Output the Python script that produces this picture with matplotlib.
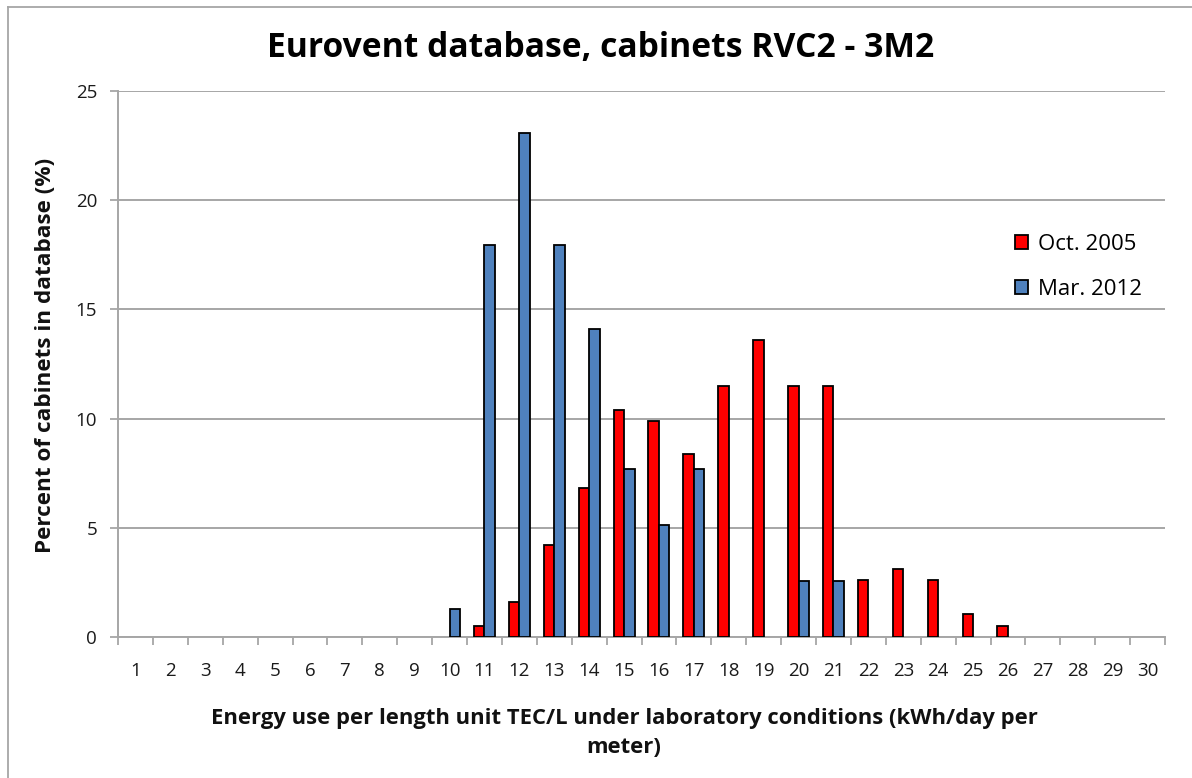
import matplotlib
matplotlib.use("Agg")
import matplotlib.pyplot as plt
import numpy as np
from matplotlib.lines import Line2D

# ---- data ----
categories = [str(i) for i in range(1, 31)]
oct_2005 = [0, 0, 0, 0, 0, 0, 0, 0, 0, 0,
            0.52, 1.6, 4.2, 6.8, 10.4, 9.9, 8.4, 11.5, 13.6, 11.5,
            11.5, 2.6, 3.1, 2.6, 1.04, 0.52, 0, 0, 0, 0]
mar_2012 = [0, 0, 0, 0, 0, 0, 0, 0, 0, 1.28,
            17.95, 23.08, 17.95, 14.10, 7.69, 5.13, 7.69, 0, 0, 2.56,
            2.56, 0, 0, 0, 0, 0, 0, 0, 0, 0]
series_labels = ["Oct. 2005", "Mar. 2012"]
yticks = [0, 5, 10, 15, 20, 25]
title = "Eurovent database, cabinets RVC2 - 3M2"
xlabel = "Energy use per length unit TEC/L under laboratory conditions (kWh/day per\nmeter)"
ylabel = "Percent of cabinets in database (%)"

FONT = "Open Sans"
W, H = 1192, 778
fig = plt.figure(figsize=(W / 100, H / 100), dpi=100)
ax = fig.add_axes([118 / W, 1 - 637 / H, (1165 - 118) / W, (637 - 91) / H])

x = np.arange(len(categories))
red = np.array(oct_2005, dtype=float)
blue = np.array(mar_2012, dtype=float)
bw = 0.3
m1 = red > 0
m2 = blue > 0
ax.bar(x[m1] - bw / 2, red[m1], width=bw, color="#FF0000", edgecolor="black",
       linewidth=1.3, label=series_labels[0], zorder=3)
ax.bar(x[m2] + bw / 2, blue[m2], width=bw, color="#4F81BD", edgecolor="black",
       linewidth=1.3, label=series_labels[1], zorder=3)

ax.set_xlim(-0.5, len(categories) - 0.5)
ax.set_ylim(0, 25)
ax.set_yticks(yticks)
ax.set_yticklabels([str(v) for v in yticks], fontsize=13.5, family=FONT, color="#1a1a1a")
ax.yaxis.grid(True, color="#A6A6A6", linewidth=1.4, zorder=0)
ax.set_axisbelow(True)

ax.set_xticks(x)
ax.set_xticklabels(categories, fontsize=13.5, family=FONT, color="#1a1a1a")
ax.set_xticks(np.arange(-0.5, len(categories), 1.0), minor=True)
ax.tick_params(axis="x", which="major", length=0, pad=18)
ax.tick_params(axis="x", which="minor", length=6, width=1.3, color="#A6A6A6")
ax.tick_params(axis="y", length=6, width=1.3, color="#A6A6A6", pad=9)

for s in ["top", "right"]:
    ax.spines[s].set_visible(False)
for s in ["left", "bottom"]:
    ax.spines[s].set_color("#A6A6A6")
    ax.spines[s].set_linewidth(1.4)

fig.text(601 / W, 1 - 48 / H, title, ha="center", va="center", fontsize=24.2,
         fontweight="bold", family=FONT, color="black")
fig.text(624 / W, 1 - 733 / H, xlabel, ha="center", va="center", fontsize=15.8,
         fontweight="bold", family=FONT, color="#111111", linespacing=1.5)
fig.text(46 / W, 1 - 355 / H, ylabel, ha="center", va="center", rotation=90,
         fontsize=16.2, fontweight="bold", family=FONT, color="#111111")

leg = ax.legend(loc="upper left", bbox_to_anchor=((999 - 118) / (1165 - 118), (637 - 218) / (637 - 91)),
                frameon=False, prop={"family": FONT, "size": 16}, handlelength=0.6,
                handleheight=0.6, handletextpad=0.45, labelspacing=1.1,
                borderpad=0.2)

# outer border (left and top)
fig.add_artist(Line2D([8 / W, 8 / W], [0, 1 - 7 / H], transform=fig.transFigure,
                      color="#A6A6A6", linewidth=1.3))
fig.add_artist(Line2D([8 / W, 1], [1 - 7 / H, 1 - 7 / H], transform=fig.transFigure,
                      color="#A6A6A6", linewidth=1.3))

fig.savefig("out.png", dpi=100, facecolor="white")
